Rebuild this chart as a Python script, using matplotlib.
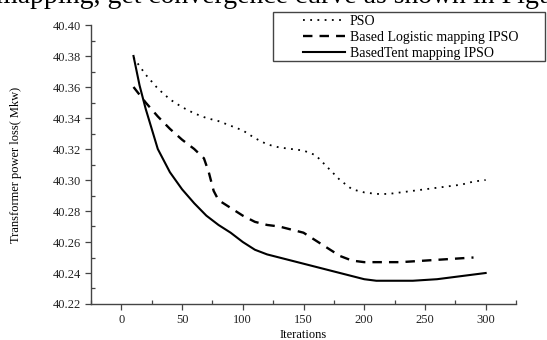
import matplotlib
matplotlib.use('Agg')
import matplotlib.pyplot as plt
from matplotlib.ticker import MultipleLocator, FormatStrFormatter
from matplotlib.patches import Rectangle

plt.rcParams['font.family'] = ['Liberation Serif', 'DejaVu Serif']

# PSO (dotted)
pso_x = [10, 20, 30, 40, 50, 60, 70, 80, 90, 100, 110, 120, 130, 140, 150, 160, 170,
         180, 190, 200, 210, 220, 230, 240, 250, 260, 270, 280, 290, 300]
pso_y = [40.379, 40.368, 40.359, 40.352, 40.347, 40.343, 40.340, 40.338, 40.335, 40.332,
         40.327, 40.323, 40.321, 40.320, 40.319, 40.316, 40.308, 40.300, 40.294, 40.292,
         40.291, 40.291, 40.292, 40.293, 40.294, 40.295, 40.296, 40.297, 40.299, 40.300]

# Based Logistic mapping IPSO (dashed)
log_x = [10, 20, 30, 40, 50, 60, 68, 72, 76, 80, 90, 100, 110, 120, 130, 140, 150,
         160, 170, 180, 190, 200, 210, 230, 250, 270, 290]
log_y = [40.360, 40.350, 40.341, 40.333, 40.326, 40.320, 40.314, 40.305, 40.293, 40.287,
         40.282, 40.277, 40.273, 40.271, 40.270, 40.268, 40.266, 40.261, 40.256, 40.251,
         40.248, 40.247, 40.247, 40.247, 40.248, 40.249, 40.250]

# BasedTent mapping IPSO (solid)
tent_x = [10, 15, 20, 30, 40, 50, 60, 70, 80, 90, 100, 110, 120, 130, 140, 150, 160,
          170, 180, 190, 200, 210, 220, 240, 260, 280, 300]
tent_y = [40.380, 40.361, 40.346, 40.320, 40.305, 40.294, 40.285, 40.277, 40.271, 40.266,
          40.260, 40.255, 40.252, 40.250, 40.248, 40.246, 40.244, 40.242, 40.240, 40.238,
          40.236, 40.235, 40.235, 40.235, 40.236, 40.238, 40.240]

W, H = 547, 340
fig = plt.figure(figsize=(W / 100, H / 100), dpi=100)
ax = fig.add_axes([91 / W, 1 - 304 / H, (516 - 91) / W, (304 - 25) / H])

ax.plot(pso_x, pso_y, color='black', lw=1.3, linestyle=(0, (1, 3)), label='PSO')
ax.plot(log_x, log_y, color='black', lw=1.7, linestyle=(0, (4, 3)),
        label='Based Logistic mapping IPSO')
ax.plot(tent_x, tent_y, color='black', lw=1.5, label='BasedTent mapping IPSO')

ax.set_xlim(-25, 325)
ax.set_ylim(40.22, 40.40)
ax.xaxis.set_major_locator(MultipleLocator(50))
ax.xaxis.set_minor_locator(MultipleLocator(25))
ax.yaxis.set_major_locator(MultipleLocator(0.02))
ax.yaxis.set_minor_locator(MultipleLocator(0.01))
ax.yaxis.set_major_formatter(FormatStrFormatter('%.2f'))
ax.set_xticks([0, 50, 100, 150, 200, 250, 300])
for side in ['top', 'right']:
    ax.spines[side].set_visible(False)
for side in ['left', 'bottom']:
    ax.spines[side].set_color('#444444')
    ax.spines[side].set_linewidth(1.0)
ax.tick_params(which='major', direction='out', length=4, width=0.9, colors='#444444',
               labelsize=9, labelcolor='#222222', pad=3)
ax.tick_params(which='minor', direction='in', length=3, width=0.9, colors='#444444')

ax.set_xlabel('Iterations', fontsize=9, labelpad=2)
ax.set_ylabel('Transformer power loss( Mkw)', fontsize=9, labelpad=22)

# legend frame drawn separately so the padding can match
fig.patches.append(Rectangle((273 / W, 1 - 61 / H), (545 - 273) / W, 49 / H,
                             transform=fig.transFigure, fill=False,
                             edgecolor='#444444', linewidth=1.0))
leg = ax.legend(loc='upper left', bbox_to_anchor=(303 / W, 1 - 15 / H),
                bbox_transform=fig.transFigure, frameon=False, fontsize=10,
                handlelength=3.0, handletextpad=0.35, borderpad=0.0,
                labelspacing=0.22, borderaxespad=0)

fig.text(-0.008, 1 - 3 / H, 'mapping, get convergence curve as shown in Figure',
         fontsize=20, va='baseline', ha='left')

fig.savefig('out.png', dpi=100)
